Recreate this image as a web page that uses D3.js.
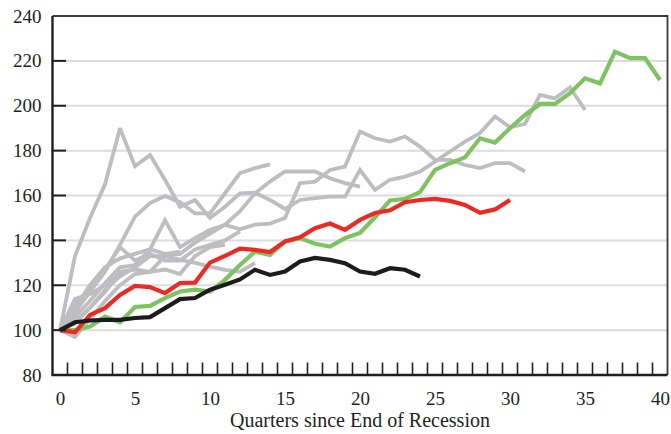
<!DOCTYPE html>
<html>
<head>
<meta charset="utf-8">
<script src="https://cdn.jsdelivr.net/npm/d3@7"></script>
<style>
  html, body { margin: 0; padding: 0; background: #ffffff; }
  svg { display: block; }
  text { font-family: "Liberation Serif", "Times New Roman", serif; fill: #231f20; }
</style>
</head>
<body>
<svg id="chart" width="671" height="434"></svg>
<script>
// ---- data ----
const xTickLabels = [0, 5, 10, 15, 20, 25, 30, 35, 40];
const yTickLabels = [80, 100, 120, 140, 160, 180, 200, 220, 240];
const xTitle = "Quarters since End of Recession";

const greenSeries = [100, 100, 101.6, 106, 103.5, 110.3, 110.8, 114.3, 117.2, 118, 117.2, 122.4, 129, 135, 133.5, 139.5, 141, 138.5, 137.2, 141, 143.3, 150.3, 157.8, 158.5, 161.5, 171.4, 174.4, 177, 185.5, 183.6, 190, 195.9, 200.8, 200.8, 205.6, 212.2, 210, 224.1, 221.2, 221.2, 211.5];
const redSeries = [100, 99, 106.8, 109.8, 115.7, 119.7, 119.2, 116.5, 121, 121.2, 130.1, 133.1, 136.3, 135.8, 134.8, 139.5, 141.4, 145.4, 147.5, 144.7, 149.1, 152.2, 153.4, 157, 158, 158.5, 157.6, 155.8, 152.3, 153.8, 158];
const blackSeries = [100, 103.5, 104.3, 104.6, 104.6, 105.4, 105.8, 109.8, 113.8, 114.3, 118, 120.2, 122.6, 126.9, 124.6, 126.1, 130.6, 132.2, 131.3, 129.8, 126.1, 125.1, 127.6, 126.9, 123.9];

const grayA = [100, 133, 150, 165, 190, 173, 178, 167, 155, 158, 150, 155, 161, 161.3, 158, 154, 158, 158.8, 159.5, 159.5, 171.4, 162.5, 167, 168.4, 170.7, 175.1, 179.6, 184, 187.8, 195.2, 190.4, 191.9, 204.8, 203.3, 208.2, 198.1];
const grayB = [100, 108, 117, 126, 138, 150.6, 156.6, 159.8, 157, 152, 152, 161, 170, 172.2, 173.9];
const grayC = [100, 106, 113, 121, 128, 129, 136, 149, 137, 141, 144.7, 146.9, 145, 147, 147.5, 150, 165.5, 166.2, 171.4, 172.9, 188.5, 185.5, 184, 186.3, 181.8, 175.9, 175.9, 173.6, 172.2, 174.4, 174.4, 170.7];
const grayD = [100, 104, 110, 118, 124, 128, 133, 133, 134, 139, 143, 147, 153, 161, 166.2, 170.7, 170.7, 170.7, 167.7, 165.5, 164];
const grayE = [100, 103, 110, 117, 126, 127, 126, 133, 131.3, 130, 128.3, 126.9, 126, 130];
const grayF = [100, 112, 118, 127, 137, 131, 134, 131, 131, 136, 138, 140, 144];
const grayG = [100, 97, 105, 113, 120, 125, 126, 127, 125, 133, 137, 138];
const grayH = [100, 114, 116, 120, 125];
const grayI = [100, 110, 120, 128, 132, 134, 136, 134, 135];
const graySeries = [grayA, grayB, grayC, grayD, grayE, grayF, grayG, grayH, grayI];

// ---- layout ----
const mLeft = 52.5, mRight = 667.5, mTop = 16, mBottom = 375;
const svg = d3.select("#chart");

const x = d3.scaleLinear().domain([-0.5, 40.5]).range([mLeft, mRight]);
const y = d3.scaleLinear().domain([80, 240]).range([mBottom, mTop]);

// gridlines
svg.append("g").selectAll("line")
  .data(yTickLabels.filter(v => v > 80 && v < 240))
  .join("line")
  .attr("x1", mLeft).attr("x2", mRight)
  .attr("y1", d => y(d)).attr("y2", d => y(d))
  .attr("stroke", "#dcdcdc").attr("stroke-width", 2);

// y axis labels
const yAxis = d3.axisLeft(y).tickValues(yTickLabels).tickSize(0).tickPadding(11).tickFormat(d3.format("d"));
const gy = svg.append("g").attr("transform", `translate(${mLeft},0)`).call(yAxis);
gy.select(".domain").remove();
gy.selectAll("text").attr("font-size", 19).attr("font-family", "Liberation Serif, serif").attr("fill", "#231f20");

// x axis labels
const xAxis = d3.axisBottom(x).tickValues(xTickLabels).tickSize(0).tickPadding(17).tickFormat(d3.format("d"));
const gx = svg.append("g").attr("transform", `translate(0,${mBottom})`).call(xAxis);
gx.select(".domain").remove();
gx.selectAll("text").attr("font-size", 19).attr("font-family", "Liberation Serif, serif").attr("fill", "#231f20");

// lines
const line = d3.line().x((d, i) => x(i)).y(d => y(d));
const plot = svg.append("g");
plot.selectAll("path.gray").data(graySeries).join("path")
  .attr("class", "gray")
  .attr("d", line).attr("fill", "none")
  .attr("stroke", "#bebec1").attr("stroke-width", 3.8)
  .attr("stroke-linejoin", "miter").attr("stroke-miterlimit", 3);
const colored = [[greenSeries, "#7dc35f"], [redSeries, "#ec2a24"], [blackSeries, "#1c1c1c"]];
plot.selectAll("path.main").data(colored).join("path")
  .attr("class", "main")
  .attr("d", d => line(d[0])).attr("fill", "none")
  .attr("stroke", d => d[1]).attr("stroke-width", 4.2)
  .attr("stroke-linejoin", "miter").attr("stroke-miterlimit", 3);

// y tick marks (inward)
svg.append("g").selectAll("line")
  .data(yTickLabels.filter(v => v > 80 && v < 240))
  .join("line")
  .attr("x1", mLeft).attr("x2", mLeft + 13.5)
  .attr("y1", d => y(d)).attr("y2", d => y(d))
  .attr("stroke", "#231f20").attr("stroke-width", 2);

// x tick marks at category boundaries (inward)
svg.append("g").selectAll("line")
  .data(d3.range(0.5, 40, 1))
  .join("line")
  .attr("x1", d => x(d)).attr("x2", d => x(d))
  .attr("y1", mBottom).attr("y2", mBottom - 12.5)
  .attr("stroke", "#231f20").attr("stroke-width", 1.6);

// frame
svg.append("path")
  .attr("d", `M${mLeft},${mTop}H${mRight}V${mBottom}`)
  .attr("fill", "none").attr("stroke", "#3a3a3a").attr("stroke-width", 1.8);
svg.append("path")
  .attr("d", `M${mLeft},${mTop}V${mBottom}H${mRight}`)
  .attr("fill", "none").attr("stroke", "#231f20").attr("stroke-width", 2.4);

// x title
svg.append("text")
  .attr("x", (mLeft + mRight) / 2).attr("y", 427)
  .attr("text-anchor", "middle")
  .attr("font-size", 20)
  .text(xTitle);
</script>
</body>
</html>
